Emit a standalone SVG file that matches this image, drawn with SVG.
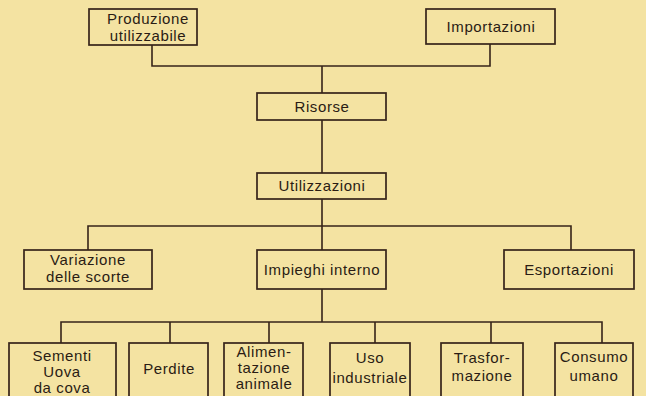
<svg xmlns="http://www.w3.org/2000/svg" width="646" height="396" viewBox="0 0 646 396">
<style>
.b{fill:none;stroke:#36241a;stroke-width:1.7}
.c{fill:none;stroke:#36241a;stroke-width:1.6}
text{font-family:"Liberation Sans",Arial,sans-serif;font-size:15px;letter-spacing:0.6px;fill:#2a1c14;text-anchor:middle}
</style>
<rect width="646" height="396" fill="#f4e3a2"/>
<g id="connectors">
<path class="c" d="M152,45 V66 H490 V44 M322,66 V93 M322,120 V173 M322,199 V250 M88,250 V226 H571 V250 M322,289 V322 M61,343 V322 H602 V343 M170,322 V343 M269,322 V343 M375,322 V343 M491,322 V343"/>
</g>
<g id="produzione"><rect class="b" x="89" y="9" width="108" height="36"/><text x="148" y="24">Produzione</text><text x="148" y="41">utilizzabile</text></g>
<g id="importazioni"><rect class="b" x="426" y="9" width="129" height="35"/><text x="491" y="32">Importazioni</text></g>
<g id="risorse"><rect class="b" x="257" y="93" width="129" height="27"/><text x="322" y="112">Risorse</text></g>
<g id="utilizzazioni"><rect class="b" x="257" y="173" width="129" height="26"/><text x="322" y="191">Utilizzazioni</text></g>
<g id="variazione"><rect class="b" x="24" y="250" width="128" height="39"/><text x="88" y="265">Variazione</text><text x="88" y="282">delle scorte</text></g>
<g id="impieghi"><rect class="b" x="257" y="250" width="129" height="39"/><text x="322" y="275">Impieghi interno</text></g>
<g id="esportazioni"><rect class="b" x="504" y="250" width="130" height="39"/><text x="569" y="275">Esportazioni</text></g>
<g id="sementi"><rect class="b" x="9" y="343" width="107" height="60"/><text x="62" y="361">Sementi</text><text x="62" y="377">Uova</text><text x="62" y="393">da cova</text></g>
<g id="perdite"><rect class="b" x="129" y="343" width="79" height="60"/><text x="169" y="374">Perdite</text></g>
<g id="alimentazione"><rect class="b" x="224" y="343" width="79" height="60"/><text x="264" y="357">Alimen-</text><text x="264" y="373">tazione</text><text x="264" y="389">animale</text></g>
<g id="uso"><rect class="b" x="330" y="343" width="80" height="60"/><text x="370" y="363">Uso</text><text x="370" y="383">industriale</text></g>
<g id="trasformazione"><rect class="b" x="441" y="343" width="82" height="60"/><text x="482" y="363">Trasfor-</text><text x="482" y="381">mazione</text></g>
<g id="consumo"><rect class="b" x="555" y="343" width="78" height="60"/><text x="594" y="362">Consumo</text><text x="594" y="381">umano</text></g>
</svg>
